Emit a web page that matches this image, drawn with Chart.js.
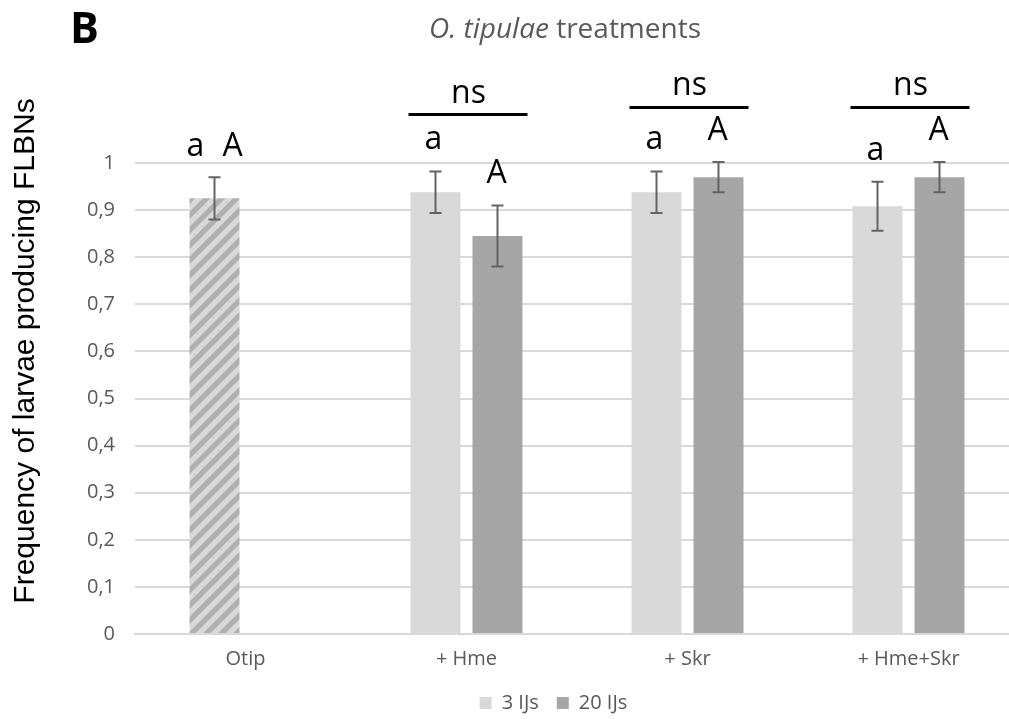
<!DOCTYPE html>
<html>
<head>
<meta charset="utf-8">
<script src="https://cdn.jsdelivr.net/npm/chart.js@4"></script>
<style>
  html, body { margin: 0; padding: 0; background: #fff; overflow: hidden; }
  #wrap { width: 1009px; height: 719px; overflow: hidden; }
  canvas { display: block; }
</style>
</head>
<body>
<div id="wrap"><canvas id="myChart" width="1020" height="723"></canvas></div>
<script>
// data
const categories = ['Otip', '+ Hme', '+ Skr', '+ Hme+Skr'];
const ijs3 = [0.925, 0.938, 0.938, 0.908];
const ijs3Err = [0.045, 0.044, 0.044, 0.052];
const ijs20 = [null, 0.845, 0.970, 0.970];
const ijs20Err = [null, 0.065, 0.032, 0.032];
const letters3 = ['a', 'a', 'a', 'a'];
const letters20 = ['A', 'A', 'A', 'A'];
const pairLabels = [null, 'ns', 'ns', 'ns'];
const seriesNames = ['3 IJs', '20 IJs'];

const lightGrey = '#d9d9d9';
const darkGrey = '#a6a6a6';
const textGrey = '#595959';

// hatched fill for the Otip-only bar
function makeHatch() {
    const n = 15;
    const c = document.createElement('canvas');
    c.width = n;
    c.height = n;
    const x = c.getContext('2d');
    x.fillStyle = lightGrey;
    x.fillRect(0, 0, n, n);
    x.strokeStyle = '#b0b0b0';
    x.lineWidth = 5.3;
    x.beginPath();
    x.moveTo(-n / 2, n * 1.5); x.lineTo(n * 1.5, -n / 2);
    x.moveTo(-n / 2, n / 2); x.lineTo(n / 2, -n / 2);
    x.moveTo(n / 2, n * 1.5); x.lineTo(n * 1.5, n / 2);
    x.stroke();
    return document.getElementById('myChart').getContext('2d').createPattern(c, 'repeat');
}
const hatch = makeHatch();

// error bars
const errorBars = {
    id: 'errorBars',
    afterDatasetsDraw(chart) {
        const ctx = chart.ctx;
        const y = chart.scales.y;
        const errs = [ijs3Err, ijs20Err];
        ctx.save();
        ctx.strokeStyle = '#636363';
        ctx.lineWidth = 2;
        chart.data.datasets.forEach((ds, d) => {
            const meta = chart.getDatasetMeta(d);
            ds.data.forEach((v, i) => {
                if (v === null) return;
                const bx = meta.data[i].x;
                const t = y.getPixelForValue(v + errs[d][i]);
                const b = y.getPixelForValue(v - errs[d][i]);
                ctx.beginPath();
                ctx.moveTo(bx, t); ctx.lineTo(bx, b);
                ctx.moveTo(bx - 6, t); ctx.lineTo(bx + 6, t);
                ctx.moveTo(bx - 6, b); ctx.lineTo(bx + 6, b);
                ctx.stroke();
            });
        });
        ctx.restore();
    }
};

// title, axis title, significance letters
const extras = {
    id: 'extras',
    afterDraw(chart) {
        const ctx = chart.ctx;
        const x = chart.scales.x;
        const y = chart.scales.y;
        ctx.save();

        // panel letter
        ctx.fillStyle = '#000';
        ctx.font = 'bold 43px "Open Sans"';
        ctx.textAlign = 'left';
        ctx.textBaseline = 'alphabetic';
        ctx.fillText('B', 70, 43);

        // title with italic species name
        ctx.fillStyle = textGrey;
        const itPart = 'O. tipulae';
        const rest = ' treatments';
        ctx.font = 'italic 28px "Open Sans"';
        const w1 = ctx.measureText(itPart).width;
        ctx.font = '28px "Open Sans"';
        const w2 = ctx.measureText(rest).width;
        let tx = 565 - (w1 + w2) / 2;
        ctx.font = 'italic 28px "Open Sans"';
        ctx.fillText(itPart, tx, 38);
        ctx.font = '28px "Open Sans"';
        ctx.fillText(rest, tx + w1, 38);

        // y axis title
        ctx.save();
        ctx.fillStyle = '#000';
        ctx.font = '30px "Liberation Sans"';
        ctx.translate(34, 351);
        ctx.rotate(-Math.PI / 2);
        ctx.textAlign = 'center';
        ctx.fillText('Frequency of larvae producing FLBNs', 0, 0);
        ctx.restore();

        // letters above bars
        const m0 = chart.getDatasetMeta(0);
        const m1 = chart.getDatasetMeta(1);
        const a3Y = [1.015, 1.030, 1.030, 1.006];
        const a20Y = [1.015, 0.958, 1.049, 1.049];
        const nsY = [0, 1.127, 1.144, 1.144];
        const lineY = [0, 1.104, 1.119, 1.119];
        ctx.fillStyle = '#000';
        ctx.font = '32px "Open Sans"';
        ctx.textAlign = 'center';
        categories.forEach((c, i) => {
            const b3 = m0.data[i].x;
            const cx = x.getPixelForValue(i);
            if (ijs20[i] === null) {
                ctx.fillText(letters3[i], b3 - 19, y.getPixelForValue(a3Y[i]));
                ctx.fillText(letters20[i], b3 + 18, y.getPixelForValue(a20Y[i]));
            } else {
                const b20 = m1.data[i].x;
                ctx.fillText(letters3[i], b3 - 2, y.getPixelForValue(a3Y[i]));
                ctx.fillText(letters20[i], b20 - 1, y.getPixelForValue(a20Y[i]));
            }
            if (pairLabels[i]) {
                ctx.fillText(pairLabels[i], cx + 2, y.getPixelForValue(nsY[i]));
                const ly = Math.round(y.getPixelForValue(lineY[i]));
                ctx.fillRect(cx - 58, ly - 1, 119, 3);
            }
        });
        ctx.restore();
    }
};

const ctx = document.getElementById('myChart');
new Chart(ctx, {
    type: 'bar',
    data: {
        labels: categories,
        datasets: [{
            label: seriesNames[0],
            data: ijs3,
            backgroundColor: [hatch, lightGrey, lightGrey, lightGrey],
            borderWidth: 0,
            categoryPercentage: 0.561,
            barPercentage: 0.806
        }, {
            label: seriesNames[1],
            data: ijs20,
            backgroundColor: darkGrey,
            borderWidth: 0,
            categoryPercentage: 0.561,
            barPercentage: 0.806
        }]
    },
    options: {
        responsive: false,
        animation: false,
        devicePixelRatio: 1,
        layout: { padding: { top: 163, left: 88, right: 1, bottom: 0 } },
        plugins: {
            title: { display: false },
            tooltip: { enabled: false },
            legend: {
                position: 'bottom',
                labels: {
                    boxWidth: 12,
                    boxHeight: 12,
                    padding: 18,
                    color: textGrey,
                    font: { family: 'Open Sans', size: 20 },
                    generateLabels: (chart) => chart.data.datasets.map((ds, i) => ({
                        text: ds.label,
                        fillStyle: i === 0 ? lightGrey : darkGrey,
                        strokeStyle: i === 0 ? lightGrey : darkGrey,
                        lineWidth: 0,
                        fontColor: textGrey,
                        datasetIndex: i
                    }))
                }
            }
        },
        scales: {
            x: {
                grid: { display: false, drawTicks: false },
                border: { display: true, color: lightGrey, width: 2 },
                ticks: { color: textGrey, font: { family: 'Open Sans', size: 20 }, padding: 13, maxRotation: 0 },
                afterFit: (s) => { s.height = 41; }
            },
            y: {
                min: 0,
                max: 1,
                grid: { color: lightGrey, lineWidth: 2, drawTicks: false },
                border: { display: false },
                ticks: {
                    stepSize: 0.1,
                    padding: 20,
                    color: textGrey,
                    font: { family: 'Open Sans', size: 20 },
                    callback: (v) => {
                        const r = Math.round(v * 10) / 10;
                        if (r === 0) return '0';
                        if (r === 1) return '1';
                        return r.toFixed(1).replace('.', ',');
                    }
                },
                afterFit: (s) => { s.width = 47; }
            }
        }
    },
    plugins: [errorBars, extras]
});
</script>
</body>
</html>
